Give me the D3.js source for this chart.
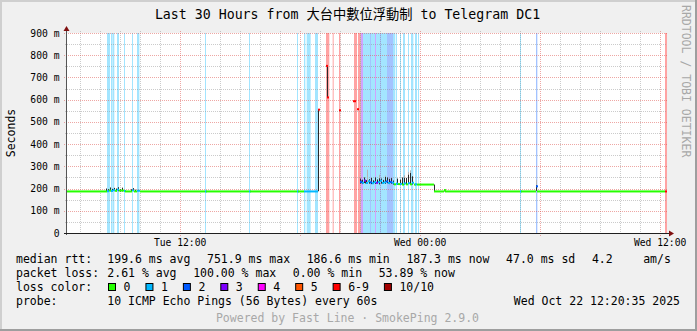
<!DOCTYPE html>
<html>
<head>
<meta charset="utf-8">
<script src="https://cdn.jsdelivr.net/npm/d3@7"></script>
<style>
body { margin: 0; background: #f0f0f0; }
text { font-family: "DejaVu Sans Mono", monospace; white-space: pre; }
</style>
</head>
<body>
<div id="chart-area"></div>
<script>
// smokeping style graph, 30 hours, one sample = 3 minutes

// loss classes
var lossLabels = ["0", "1", "2", "3", "4", "5", "6-9", "10/10"];
var lossColors = ["#26ff00", "#00b8ff", "#0059ff", "#7e00ff", "#ff00ff", "#ff5500", "#ff0000", "#a10000"];

// median rtt steps: minutes since graph start, ms, lost pings (NaN = no reply)
var medianTime = [0, 120, 126, 132, 138, 144, 150, 156, 171, 174, 195, 201, 210, 219, 414, 417, 546, 549, 690, 693,
  711, 753, 759, 777, 780, 783, 816, 820, 858, 867, 870, 876,
  879, 885, 891, 897, 903, 909, 915, 921, 927, 933, 939, 945, 951, 957, 963, 969, 975,
  981, 987, 993, 999, 1005, 1011, 1017, 1023, 1029, 1035, 1041, 1044, 1050,
  1101, 1131, 1134, 1359, 1362, 1407, 1410, 1794, 1800];
var medianMs = [187, 188, 191, 189, 193, 190, 195, 191, 189, 187, 192, 187, 190, 187, 187, 187, 187, 187, 187, 187,
  187, 555, NaN, 752, 610, NaN, 552, NaN, 593, NaN, 557, NaN,
  230, 226, 236, 225, 233, 228, 224, 229, 226, 229, 235, 225, 228, 232, 225, 229, 226,
  219, 222, 220, 221, 218, 223, 219, 224, 219, 226, 218, 219, 218,
  187, 193, 187, 187, 187, 210, 187, 187, NaN];
var medianLoss = [0, 1, 0, 1, 1, 0, 1, 0, 1, 0, 1, 0, 1, 0, 1, 0, 1, 0, 1, 0,
  1, 7, 10, 7, 7, 10, 7, 10, 7, 10, 7, 10,
  2, 1, 3, 1, 1, 2, 1, 1, 3, 1, 1, 1, 1, 2, 1, 2, 1,
  0, 1, 0, 1, 0, 1, 0, 1, 0, 1, 0, 1, 0,
  0, 0, 0, 1, 0, 2, 0, 7, 0];

// smoke: ping spread per sample [minute, low ms, high ms]
var smokeDark = [[117, 186, 200], [123, 186, 197], [129, 188, 205], [135, 186, 199], [141, 188, 203], [147, 187, 200],
  [153, 188, 206], [159, 186, 198], [165, 187, 204], [192, 187, 197], [198, 188, 202], [204, 187, 195],
  [753, 188, 555], [780, 610, 752],
  [879, 222, 245], [882, 224, 236], [885, 220, 240], [891, 225, 250], [894, 223, 233], [897, 221, 238],
  [906, 222, 242], [912, 220, 248], [918, 223, 237], [924, 221, 250], [930, 224, 241], [936, 219, 246],
  [942, 222, 245], [948, 223, 239], [954, 221, 252], [960, 224, 250], [966, 220, 244], [972, 222, 247],
  [978, 218, 236], [990, 217, 245], [999, 218, 240], [1005, 216, 250], [1011, 219, 248], [1017, 218, 248],
  [1023, 220, 262], [1029, 221, 270], [1035, 218, 255], [1101, 186, 218], [1131, 187, 196], [1407, 190, 215]];
var smokeLight = [[900, 224, 285], [936, 219, 262], [954, 221, 258], [1011, 219, 260], [1023, 220, 275],
  [1029, 221, 282], [1407, 190, 240]];

// loss background: [start minute, end minute, lost pings]
var lossBg = [[120, 129, 1], [132, 137, 1], [138, 142, 1], [150, 156, 1], [171, 174, 1], [195, 198, 1], [210, 217, 1],
  [414, 417, 1], [546, 549, 1], [690, 693, 1], [711, 715, 1], [719, 731, 1], [744, 753, 1],
  [777, 787, 7], [797, 800, 7], [816, 820, 7], [861, 870, 7], [873, 879, 7], [879, 882, 10], [882, 888, 3],
  [888, 909, 1], [909, 912, 2], [912, 924, 1], [924, 927, 3], [927, 939, 1], [939, 942, 2], [942, 960, 1],
  [960, 978, 2], [978, 984, 1], [986, 990, 1], [999, 1002, 1], [1008, 1014, 1], [1023, 1026, 1],
  [1032, 1039, 1], [1044, 1050, 1], [1053, 1056, 1], [1359, 1362, 1], [1407, 1411, 2], [1794, 1800, 7]];

var yTicks = [0, 0.1, 0.2, 0.3, 0.4, 0.5, 0.6, 0.7, 0.8, 0.9];

var titleParts = ["Last 30 Hours from ", "大台中數位浮動制", " to Telegram DC1"];
var rttLegend = ["199.6 ms avg", "751.9 ms max", "186.6 ms min", "187.3 ms now", "47.0 ms sd", "4.2  ", "am/s"];
var lossLegend = ["2.61 % avg", "100.00 % max", "0.00 % min", "53.89 % now"];
var probeText = "10 ICMP Echo Pings (56 Bytes) every 60s";
var stampText = "Wed Oct 22 12:20:35 2025";
var footerText = "Powered by Fast Line · SmokePing 2.9.0";

function lossClass(n) {
  if (n >= 10) return 7;
  if (n >= 6) return 6;
  return n;
}

var margin = { top: 33, bottom: 98, left: 67, right: 30 };
var width = 600, height = 200;
var W = 697, H = 331;

var endTime = new Date(2025, 9, 22, 12, 20, 35);
var startTime = new Date(endTime.getTime() - 30 * 3600 * 1000);
function tm(m) { return new Date(startTime.getTime() + m * 60000); }

var svg = d3.select("#chart-area").append("svg")
  .attr("width", W).attr("height", H)
  .style("display", "block");

// frame
svg.append("rect").attr("width", W).attr("height", H).attr("fill", "#f0f0f0");
svg.append("rect").attr("x", 0).attr("y", 0).attr("width", W).attr("height", 2).attr("fill", "#cfcfcf");
svg.append("rect").attr("x", 0).attr("y", 0).attr("width", 2).attr("height", H).attr("fill", "#cfcfcf");
svg.append("rect").attr("x", 0).attr("y", H - 2).attr("width", W).attr("height", 2).attr("fill", "#9e9e9e");
svg.append("rect").attr("x", W - 2).attr("y", 0).attr("width", 2).attr("height", H).attr("fill", "#9e9e9e");

var g = svg.append("g").attr("transform", "translate(" + margin.left + "," + margin.top + ")");

var x = d3.scaleTime().domain([startTime, endTime]).range([0, width]);
var y = d3.scaleLinear().domain([0, 0.9]).range([height, 0]);

g.append("rect").attr("width", width).attr("height", height).attr("fill", "#fff");

// loss background
g.selectAll(".lossbg").data(lossBg).enter().append("rect")
  .attr("x", d => x(tm(d[0])))
  .attr("width", d => Math.max(1, x(tm(d[1])) - x(tm(d[0]))))
  .attr("y", 0).attr("height", height)
  .attr("fill", d => lossColors[lossClass(d[2])])
  .attr("fill-opacity", d => d[2] >= 10 ? 0.3 : 0.36);

// grid
var minorX = x.ticks(d3.timeHour.every(1)).filter(d => d.getHours() % 6 != 0);
var majorX = x.ticks(d3.timeHour.every(6));
var minorY = y.ticks(18).filter(v => Math.round(v * 100) % 10 != 0);

g.selectAll(".gx").data(minorX).enter().append("line")
  .attr("x1", d => Math.round(x(d)) + 0.5).attr("x2", d => Math.round(x(d)) + 0.5)
  .attr("y1", -2).attr("y2", height + 2)
  .attr("stroke", "#8c8c8c").attr("stroke-opacity", 0.45).attr("stroke-dasharray", "1,1");
g.selectAll(".gy").data(minorY).enter().append("line")
  .attr("x1", -2).attr("x2", width)
  .attr("y1", d => Math.round(y(d)) + 0.5).attr("y2", d => Math.round(y(d)) + 0.5)
  .attr("stroke", "#8c8c8c").attr("stroke-opacity", 0.45).attr("stroke-dasharray", "1,1");
g.selectAll(".mx").data(majorX).enter().append("line")
  .attr("x1", d => Math.round(x(d)) + 0.5).attr("x2", d => Math.round(x(d)) + 0.5)
  .attr("y1", -2).attr("y2", height + 3)
  .attr("stroke", "#de5049").attr("stroke-opacity", 0.5).attr("stroke-dasharray", "1,1");
g.selectAll(".my").data(yTicks.slice(1)).enter().append("line")
  .attr("x1", -3).attr("x2", width)
  .attr("y1", d => Math.round(y(d)) + 0.5).attr("y2", d => Math.round(y(d)) + 0.5)
  .attr("stroke", "#de5049").attr("stroke-opacity", 0.5).attr("stroke-dasharray", "1,1");

// smoke
function smoke(list, color) {
  g.selectAll(null).data(list).enter().append("rect")
    .attr("x", d => Math.round(x(tm(d[0]))))
    .attr("width", 1)
    .attr("y", d => y(d[2] / 1000))
    .attr("height", d => y(d[1] / 1000) - y(d[2] / 1000))
    .attr("fill", color);
}
smoke(smokeLight, "#b4b4b4");
smoke(smokeDark, "#2a2a2a");

// median, one step per sample run
var steps = [];
for (var i = 0; i < medianTime.length - 1; i++) {
  if (isNaN(medianMs[i])) continue;
  steps.push({ t0: medianTime[i], t1: medianTime[i + 1], v: medianMs[i] / 1000, loss: medianLoss[i] });
}
g.selectAll(".med").data(steps).enter().append("rect")
  .attr("x", d => x(tm(d.t0)))
  .attr("width", d => Math.max(2, x(tm(d.t1)) - x(tm(d.t0))))
  .attr("y", d => y(d.v) - 1)
  .attr("height", 2)
  .attr("fill", d => lossColors[lossClass(d.loss)]);

// axes
g.append("line").attr("x1", -0.5).attr("x2", -0.5).attr("y1", -4).attr("y2", height + 2)
  .attr("stroke", "#555");
g.append("line").attr("x1", -3).attr("x2", width + 3).attr("y1", height + 0.5).attr("y2", height + 0.5)
  .attr("stroke", "#202020");
g.append("path").attr("d", "M-3.5,-2 L-0.5,-7 L2.5,-2 Z").attr("fill", "#801010");
g.append("path").attr("d", "M" + (width + 2) + "," + (height - 2.5) + " L" + (width + 7) + "," + (height + 0.5) + " L" + (width + 2) + "," + (height + 3.5) + " Z").attr("fill", "#801010");

g.selectAll(".ylab").data(yTicks).enter().append("text")
  .attr("x", -7.5).attr("y", d => y(d) + 3.5)
  .attr("text-anchor", "end").attr("font-size", "9.7px")
  .text(d => d === 0 ? "0" : Math.round(d * 1000) + " m");

var timeFmt = d3.timeFormat("%a %H:%M");
g.selectAll(".xlab").data(x.ticks(d3.timeHour.every(12))).enter().append("text")
  .attr("x", d => x(d)).attr("y", height + 13)
  .attr("text-anchor", "middle").attr("font-size", "9.7px")
  .text(d => timeFmt(d));

// titles
var title = svg.append("text").attr("x", 347.5).attr("y", 19)
  .attr("text-anchor", "middle").attr("font-size", "13.25px");
title.append("tspan").text(titleParts[0]);
title.append("tspan").style("font-family", "'Noto Sans CJK TC', 'Noto Sans CJK SC', sans-serif")
  .text(titleParts[1]);
title.append("tspan").text(titleParts[2]);

svg.append("text").attr("transform", "translate(14.5,133) rotate(-90)")
  .attr("text-anchor", "middle").attr("font-size", "11.5px").text("Seconds");

svg.append("text").attr("transform", "translate(682,5) rotate(90)")
  .attr("font-size", "11.5px").attr("fill", "#a8a8a8").text("RRDTOOL / TOBI OETIKER");

// legend
var lx = 16, vx = 107.3, gap = 16.6;
function row(label, items, by) {
  svg.append("text").attr("x", lx).attr("y", by).attr("font-size", "11.5px").text(label);
  var cx = vx;
  items.forEach(function(s) {
    var t = svg.append("text").attr("x", cx).attr("y", by).attr("font-size", "11.5px").text(s);
    cx += t.node().getComputedTextLength() + gap;
  });
}
row("median rtt:", rttLegend, 263);
row("packet loss:", lossLegend, 277);

svg.append("text").attr("x", lx).attr("y", 291).attr("font-size", "11.5px").text("loss color:");
var sx = 108.5;
lossLabels.forEach(function(lab, i) {
  svg.append("rect").attr("x", sx).attr("y", 283.5).attr("width", 7).attr("height", 7)
    .attr("fill", lossColors[i]).attr("stroke", "#000").attr("stroke-width", 1);
  var t = svg.append("text").attr("x", sx + 15).attr("y", 291).attr("font-size", "11.5px").text(lab);
  sx = sx + 15 + t.node().getComputedTextLength() + 15.5;
});

svg.append("text").attr("x", lx).attr("y", 305).attr("font-size", "11.5px").text("probe:");
svg.append("text").attr("x", vx).attr("y", 305).attr("font-size", "11.5px").text(probeText);
svg.append("text").attr("x", 680).attr("y", 305).attr("text-anchor", "end").attr("font-size", "11.5px").text(stampText);

svg.append("text").attr("x", 347.5).attr("y", 322).attr("text-anchor", "middle")
  .attr("font-size", "11.5px").attr("fill", "#a8a8a8").text(footerText);
</script>
</body>
</html>
